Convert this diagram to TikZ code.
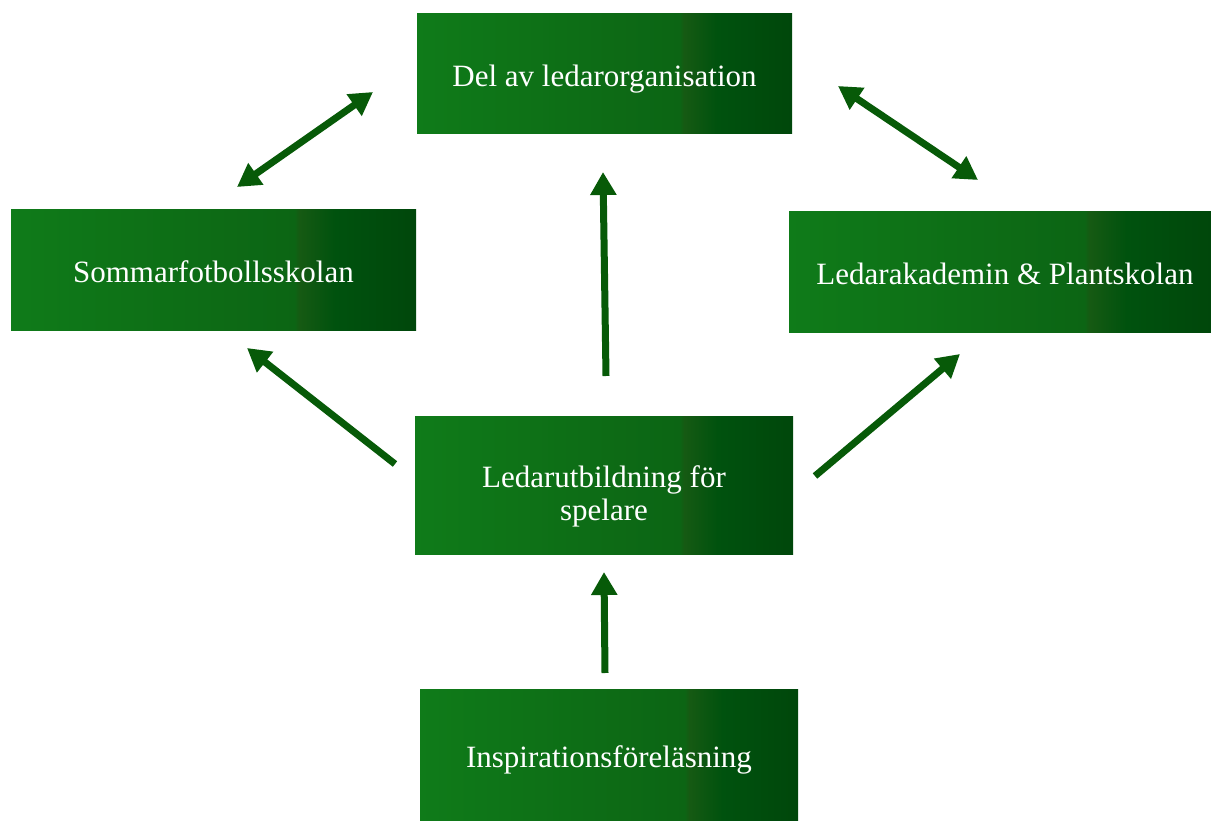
\documentclass[tikz,border=0pt]{standalone}
\usepackage{fontspec}
\setmainfont{Liberation Serif}
\usetikzlibrary{arrows.meta}
\definecolor{gA}{HTML}{0F7B19}
\definecolor{gB}{HTML}{0C6514}
\definecolor{gC}{HTML}{165A13}
\definecolor{gD}{HTML}{00520E}
\definecolor{gE}{HTML}{00470B}
\definecolor{arrowgreen}{HTML}{075A08}
\pgfdeclarehorizontalshading{boxgrad}{100bp}{color(0bp)=(gA); color(25bp)=(gA); color(60bp)=(gB); color(60.6bp)=(gC); color(65bp)=(gD); color(75bp)=(gE); color(100bp)=(gE)}
\tikzset{
  box/.style={rectangle, shading=boxgrad, draw=none, text=white, align=center,
    inner sep=0pt, font=\fontsize{31}{33}\selectfont},
  oneline/.style={text height=30pt, text depth=4pt},
  lbl/.style={text=white, align=center, inner sep=0pt, font=\fontsize{31}{33}\selectfont},
  conn/.style={draw=arrowgreen, line width=7pt, -{Triangle[width=25pt,length=23pt]}},
  dconn/.style={draw=arrowgreen, line width=7pt, {Triangle[width=25pt,length=23pt]}-{Triangle[width=25pt,length=23pt]}}
}
\begin{document}
\begin{tikzpicture}[x=1pt,y=-1pt]
\useasboundingbox (0,0) rectangle (1211,821);
\node[box, oneline, minimum width=375pt, minimum height=120pt] (top) at (604.5,74) {Del av ledarorganisation};
\node[box, oneline, minimum width=405pt, minimum height=120pt] (left) at (213.5,270) {Sommarfotbollsskolan};
\node[box, minimum width=422pt, minimum height=120pt,
  label={[lbl, oneline, xshift=5pt]center:Ledarakademin \& Plantskolan}] (right) at (1000,272) {};
\node[box, minimum width=378pt, minimum height=138pt,
  label={[lbl, yshift=-11pt]center:Ledarutbildning för\\spelare}] (mid) at (604,485) {};
\node[box, oneline, minimum width=378pt, minimum height=131pt] (bot) at (609,754.5) {Inspirationsföreläsning};

\coordinate (tlA) at (237,187);
\coordinate (tlB) at (373,92);
\coordinate (trA) at (838,86);
\coordinate (trB) at (978,180);
\coordinate (cuA) at (606,376);
\coordinate (cuB) at (603,172);
\coordinate (lA) at (395,464);
\coordinate (lB) at (247,348);
\coordinate (rA) at (815,476);
\coordinate (rB) at (960,354);
\coordinate (bA) at (605,673);
\coordinate (bB) at (604,572);

\draw[dconn] (tlA) -- (tlB);
\draw[dconn] (trA) -- (trB);
\draw[conn] (cuA) -- (cuB);
\draw[conn] (lA) -- (lB);
\draw[conn] (rA) -- (rB);
\draw[conn] (bA) -- (bB);
\end{tikzpicture}
\end{document}
